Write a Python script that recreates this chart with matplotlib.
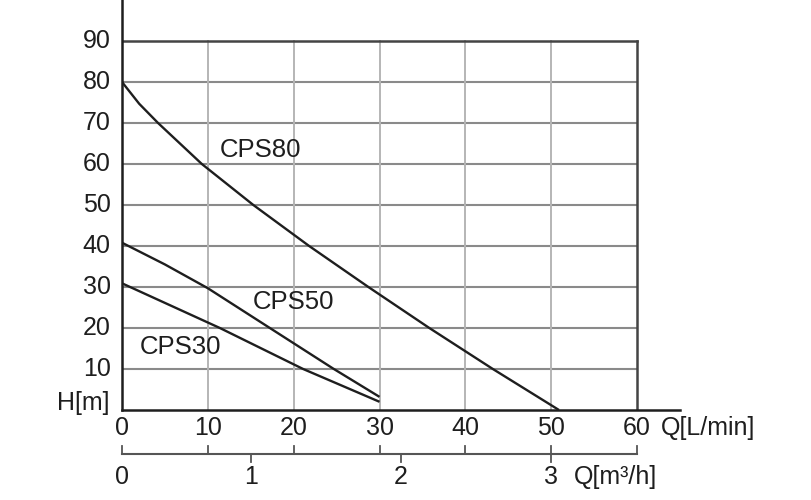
import matplotlib
matplotlib.use("Agg")
import matplotlib.pyplot as plt
from matplotlib.transforms import blended_transform_factory

plt.rcParams['font.family'] = ['Liberation Sans', 'DejaVu Sans']

# Data
cps80_q = [0, 2.0, 4.2, 9.3, 15.3, 21.8, 28.7, 35.8, 43.2, 50.9]
cps80_h = [80, 74.7, 70, 60, 50, 40, 30, 20, 10, 0]
cps50_q = [0, 5.0, 10.0, 17.0, 24.6, 30.0]
cps50_h = [40.8, 35.5, 29.7, 20.3, 10.1, 3.2]
cps30_q = [0, 11.4, 21.1, 30.0]
cps30_h = [30.9, 20, 10, 2.0]

h_ticks = [10, 20, 30, 40, 50, 60, 70, 80, 90]
q_lmin_ticks = [0, 10, 20, 30, 40, 50, 60]
q_m3h_labels = ["0", "1", "2", "3"]
q_m3h_pos = [0, 15.0, 32.5, 50.0]   # positions on the L/min scale as drawn

labels = ["CPS80", "CPS50", "CPS30"]
label_pos = [(11.4, 63.5), (15.2, 26.4), (2.1, 15.4)]

fig = plt.figure(figsize=(8.12, 5.0), dpi=100)
ax = fig.add_axes([122/812, 90/500, 558/812, 410/500])
ax.set_xlim(0, 65)
ax.set_ylim(0, 100)

dark = "#1e1e1e"
for s in ["top", "right"]:
    ax.spines[s].set_visible(False)
for s in ["left", "bottom"]:
    ax.spines[s].set_color(dark)
    ax.spines[s].set_linewidth(1.8)

# grid
for h in h_ticks[:-1]:
    ax.plot([0, 60], [h, h], color="#8a8a8a", lw=1.5, zorder=1)
for q in q_lmin_ticks[1:-1]:
    ax.plot([q, q], [0, 90], color="#b5b5b5", lw=1.4, zorder=1)
# box
ax.plot([0, 60], [90, 90], color="#444444", lw=1.8, zorder=2)
ax.plot([60, 60], [0, 90], color="#444444", lw=1.8, zorder=2)

# curves
for q, h in [(cps80_q, cps80_h), (cps50_q, cps50_h), (cps30_q, cps30_h)]:
    ax.plot(q, h, color=dark, lw=1.7, zorder=3, solid_capstyle="butt",
            solid_joinstyle="round")

for lab, (x, y) in zip(labels, label_pos):
    ax.text(x, y, lab, fontsize=18.5, color=dark, ha="left", va="center")

ax.set_xticks([])
ax.set_yticks([])

# y tick labels
for h in h_ticks:
    ax.text(-1.3, h, str(h), fontsize=18, color=dark, ha="right", va="center")
ax.text(-1.5, 1.8, "H[m]", fontsize=18, color=dark, ha="right", va="center")

# primary x labels
tr = blended_transform_factory(ax.transData, fig.transFigure)
for q in q_lmin_ticks:
    ax.text(q, 1 - 428/500, str(q), fontsize=18, color=dark, ha="center",
            va="center", transform=tr)
ax.text(62.8, 1 - 428/500, "Q[L/min]", fontsize=18, color=dark, ha="left",
        va="center", transform=tr)

# secondary axis
yl = 1 - 454/500
ax.plot([0, 60], [yl, yl], color="#555555", lw=1.5, transform=tr, clip_on=False)
for q in q_lmin_ticks:
    ax.plot([q, q], [yl, 1 - 446/500], color="#555555", lw=1.3,
            transform=tr, clip_on=False)
for q in q_m3h_pos[1:]:
    ax.plot([q, q], [yl, 1 - 462/500], color="#555555", lw=1.3,
            transform=tr, clip_on=False)
for lab, q in zip(q_m3h_labels, q_m3h_pos):
    ax.text(q, 1 - 477/500, lab, fontsize=18, color=dark, ha="center",
            va="center", transform=tr)
ax.text(52.6, 1 - 477/500, "Q[m³/h]", fontsize=18, color=dark, ha="left",
        va="center", transform=tr)

fig.savefig("out.png", dpi=100)
